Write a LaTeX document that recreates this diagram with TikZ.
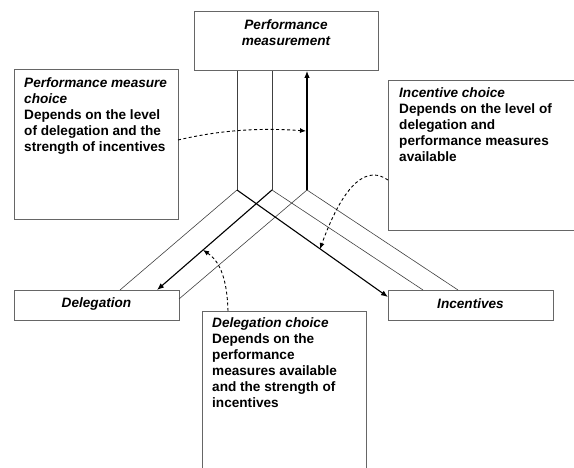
\documentclass[tikz,border=0pt]{standalone}
\usepackage{fontspec}
\setmainfont{Liberation Sans}
\usetikzlibrary{arrows.meta}
\begin{document}
\begin{tikzpicture}[x=1pt,y=-1pt,
  boxframe/.style={draw=black!60, line width=0.9pt, inner sep=0pt, anchor=north west},
  thinline/.style={draw=black!75, line width=0.6pt},
  thickarrow/.style={draw=black, line width=1.1pt, -{Latex[length=7pt,width=5.5pt]}},
  dasharrow/.style={draw=black, line width=0.9pt, dash pattern=on 3pt off 2.5pt, -{Latex[length=6pt,width=5pt]}},
  txt/.style={font=\fontsize{13.6}{15.9}\selectfont\bfseries, align=left, anchor=north west, inner sep=0pt},
  ttl/.style={font=\fontsize{13.6}{16.5}\selectfont\bfseries\itshape, align=center, inner sep=0pt}
]
\useasboundingbox (0,0) rectangle (574,468);

% boxes
\node[boxframe, minimum width=184pt, minimum height=59pt] (pm) at (194,11) {};
\node[boxframe, minimum width=164pt, minimum height=150pt] (pmc) at (14,69) {};
\node[boxframe, minimum width=195pt, minimum height=150pt] (ic) at (388,80) {};
\node[boxframe, minimum width=165pt, minimum height=30pt] (del) at (14,290) {};
\node[boxframe, minimum width=165pt, minimum height=30pt] (inc) at (388,290) {};
\node[boxframe, minimum width=164pt, minimum height=175pt] (dc) at (202,311) {};

% texts
\node[ttl, anchor=north] (pmt) at (286,19) {Performance\\measurement};
\node[ttl] (delt) at (96.5,303.5) {Delegation};
\node[ttl] (inct) at (470.5,303.5) {Incentives};
\node[txt] (pmct) at (24,77.5) {\textit{Performance measure}\\\textit{choice}\\Depends on the level\\of delegation and the\\strength of incentives};
\node[txt] (ict) at (399,87.5) {\textit{Incentive choice}\\Depends on the level of\\delegation and\\performance measures\\available};
\node[txt] (dct) at (212,317.5) {\textit{Delegation choice}\\Depends on the\\performance\\measures available\\and the strength of\\incentives};

% junction points
\coordinate (v1) at (237,190);
\coordinate (v2) at (272,190);
\coordinate (v3) at (307,190);
\coordinate (d1) at (120,290);
\coordinate (d2) at (157,290);
\coordinate (d3) at (179,299);
\coordinate (i1) at (388,297);
\coordinate (i2) at (423,290);
\coordinate (i3) at (458,290);

% vertical channel
\draw[thinline] (v1) -- (v1 |- pm.south);
\draw[thinline] (v2) -- (v2 |- pm.south);
\draw[thickarrow] (v3) -- (v3 |- pm.south);

% left channel
\draw[thinline] (v1) -- (d1);
\draw[thickarrow] (v2) -- (d2);
\draw[thinline] (v3) -- (d3);

% right channel
\draw[thickarrow] (v1) -- (i1);
\draw[thinline] (v2) -- (i2);
\draw[thinline] (v3) -- (i3);

% dashed influence arrows
\coordinate (a1s) at (178,140);
\coordinate (a1e) at (306,131);
\draw[dasharrow] (a1s) .. controls (225,129) and (265,128) .. (a1e);
\coordinate (a2s) at (388,180);
\coordinate (a2e) at (320,249);
\draw[dasharrow] (a2s) .. controls (368,166) and (345,180) .. (a2e);
\coordinate (a3s) at (228,311);
\coordinate (a3e) at (203,250);
\draw[dasharrow] (a3s) .. controls (227,275) and (218,260) .. (a3e);
\end{tikzpicture}
\end{document}
